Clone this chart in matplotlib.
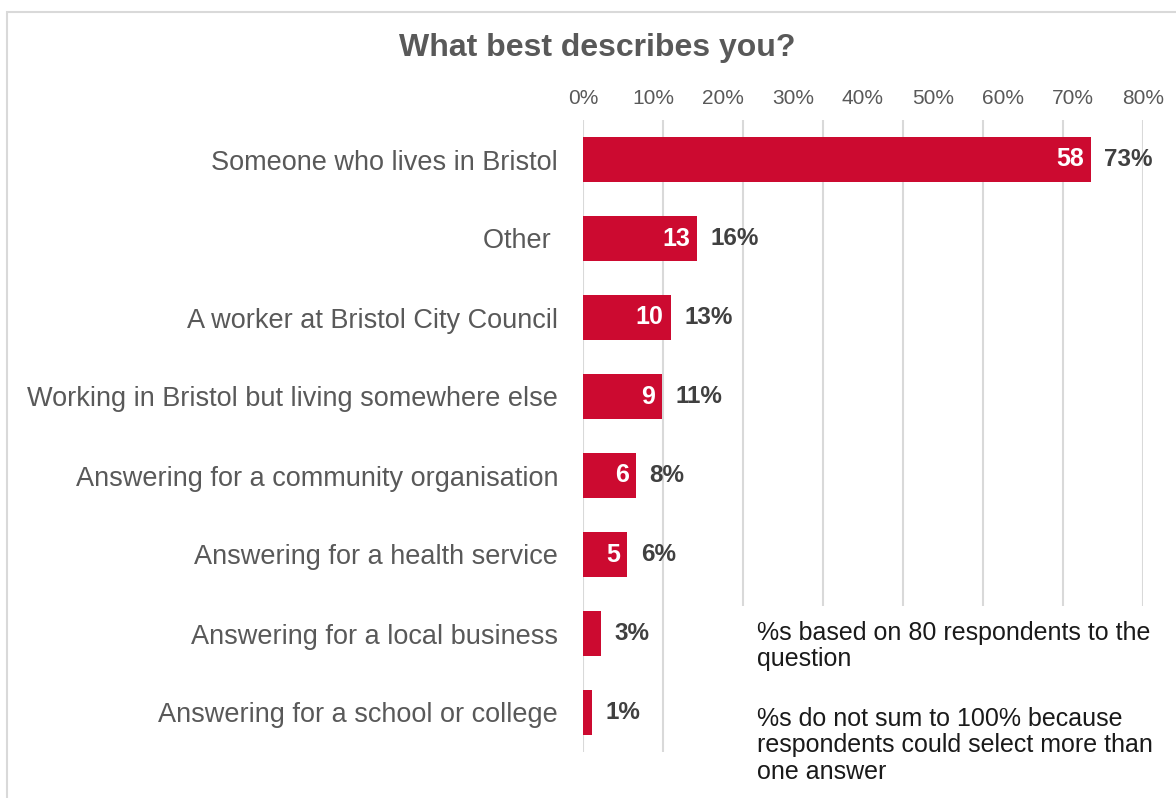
import matplotlib.pyplot as plt
from matplotlib.patches import Rectangle
import numpy as np

plt.rcParams['font.family'] = ['Liberation Sans', 'DejaVu Sans']

categories = [
    "Someone who lives in Bristol",
    "Other ",
    "A worker at Bristol City Council",
    "Working in Bristol but living somewhere else",
    "Answering for a community organisation",
    "Answering for a health service",
    "Answering for a local business",
    "Answering for a school or college",
]
counts = [58, 13, 10, 9, 6, 5, 2, 1]
pct_labels = ["73%", "16%", "13%", "11%", "8%", "6%", "3%", "1%"]
respondents = 80
x_ticks = [0, 10, 20, 30, 40, 50, 60, 70, 80]
x_ticklabels = ["0%", "10%", "20%", "30%", "40%", "50%", "60%", "70%", "80%"]
note_base = "%s based on 80 respondents to the\nquestion"
note_sum = "%s do not sum to 100% because\nrespondents could select more than\none answer"

BAR = '#CC0A30'
GRID = '#D9D9D9'
LABEL = '#595959'
VALUE = '#404040'

W, H = 1176, 798
fig = plt.figure(figsize=(W / 100, H / 100), dpi=100)
# axes placed in pixel terms: x from 583 to 1143, y from 120 to 752
ax = fig.add_axes([583 / W, 1 - 752 / H, 560 / W, 632 / H])

pct = [c / respondents * 100 for c in counts]
y = np.arange(len(categories))

# outer chart border (only top and left fall inside the image)
fig.add_artist(Rectangle((7 / W, -0.1), 1.2, 1 - 12 / H + 0.1, transform=fig.transFigure,
                         fill=False, edgecolor=GRID, linewidth=1.5))

# vertical gridlines, 7 equal steps across the scale
for gx in np.linspace(0, 80, 8):
    ax.axvline(gx, color=GRID, linewidth=1.5, zorder=0)

ax.barh(y, pct, height=0.58, color=BAR, zorder=2)

for yi, p, c, lab in zip(y, pct, counts, pct_labels):
    if c >= 5:
        ax.annotate(str(c), (p, yi), xytext=(-5, 0), textcoords='offset points',
                    ha='right', va='center', color='white', fontsize=18, fontweight='bold', zorder=3)
    ax.annotate(lab, (p, yi), xytext=(10, 0), textcoords='offset points',
                ha='left', va='center', color=VALUE, fontsize=17.5, fontweight='bold', zorder=3)

ax.set_xlim(0, 80)
ax.set_ylim(len(categories) - 0.5, -0.5)
ax.xaxis.tick_top()
ax.set_xticks(x_ticks)
ax.set_xticklabels(x_ticklabels, fontsize=15, color=LABEL)
ax.set_yticks(y)
ax.set_yticklabels(categories, fontsize=19.5, color=LABEL)
ax.tick_params(axis='x', length=0, pad=9)
ax.tick_params(axis='y', length=0, pad=18)
for s in ax.spines.values():
    s.set_visible(False)

# white panel behind the note, hides the lower gridlines
ax.add_patch(Rectangle((0.2, -0.2), 1.0, 0.2 + (752 - 606) / 632, transform=ax.transAxes,
                       facecolor='white', edgecolor='none', zorder=1, clip_on=False))
fig.text(757 / W, 1 - 621 / H, note_base, ha='left', va='top', fontsize=18, color='#1A1A1A',
         linespacing=1.12)
fig.text(757 / W, 1 - 707 / H, note_sum, ha='left', va='top', fontsize=18, color='#1A1A1A',
         linespacing=1.12)

fig.text(597 / W, 1 - 48 / H, "What best describes you?", ha='center', va='center',
         fontsize=23, fontweight='bold', color=LABEL)

fig.savefig('out.png', dpi=100, facecolor='white')
